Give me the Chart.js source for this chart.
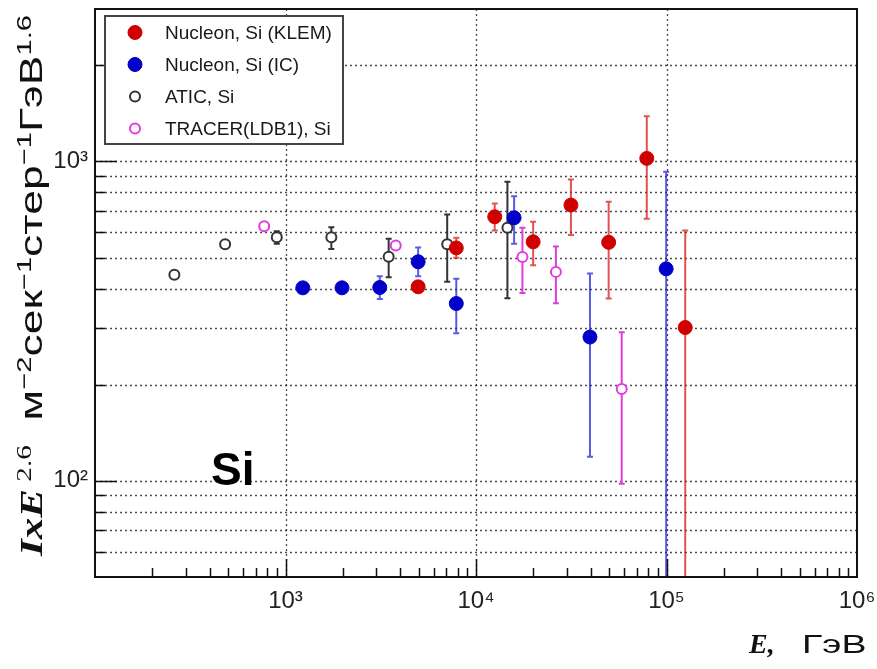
<!DOCTYPE html>
<html>
<head>
<meta charset="utf-8">
<title>Si</title>
<script src="https://cdn.jsdelivr.net/npm/chart.js@4.4.1/dist/chart.umd.min.js"></script>
<style>
  html, body { margin: 0; padding: 0; background: #fff; }
  canvas { display: block; }
</style>
</head>
<body>
<canvas id="siChart" width="877" height="669"></canvas>
<script>
// Nucleon KLEM: energy (GeV), flux x E^2.6, lower / upper error limits
const klemE    = [4970, 7880, 12540, 19950, 31500, 49700, 78800, 125400];
const klemFlux = [405, 536, 671, 560, 730, 558, 1022, 302];
const klemLo   = [392, 499, 608, 473, 588, 372, 661, 10];
const klemHi   = [418, 577, 738, 647, 878, 748, 1384, 608];

// Nucleon IC
const icE    = [1233, 1980, 3125, 4970, 7880, 15850, 39650, 99600];
const icFlux = [402, 402, 403, 485, 359, 666, 282, 461];
const icLo   = [396, 388, 371, 437, 290, 552, 119, 10];
const icHi   = [408, 416, 437, 538, 429, 778, 446, 928];

// ATIC
const aticE    = [261, 482, 900, 1740, 3480, 7060, 14620];
const aticFlux = [442, 550, 579, 579, 503, 550, 620];
const aticLo   = [442, 550, 552, 532, 434, 420, 373];
const aticHi   = [442, 550, 604, 622, 573, 682, 863];

// TRACER (LDB1)
const tracerE    = [773, 3790, 17530, 26270, 58200];
const tracerFlux = [627, 545, 502, 451, 194];
const tracerLo   = [627, 545, 387, 360, 98];
const tracerHi   = [627, 545, 620, 542, 292];

// axis decorations
const xGridLines = [1e3, 1e4, 1e5];
const xLabelTicks = [1e3, 1e4, 1e5, 1e6];
const yGridLines = [60, 70, 80, 90, 100, 200, 300, 400, 500, 600, 700, 800, 900, 1000, 2000];
const yLabelTicks = [100, 1000];

const SANS = '"Liberation Sans", Arial, Helvetica, sans-serif';
const SERIF = '"Liberation Serif", "Times New Roman", serif';
const SUP = { 2: '\u00B2', 3: '\u00B3', 4: '\u2074', 5: '\u2075', 6: '\u2076' };

const series = [
    { label: 'Nucleon, Si (KLEM)', e: klemE, v: klemFlux, lo: klemLo, hi: klemHi,
      color: '#d10000', err: 'rgba(215,25,25,0.75)', filled: true },
    { label: 'Nucleon, Si (IC)', e: icE, v: icFlux, lo: icLo, hi: icHi,
      color: '#0000c8', err: 'rgba(20,20,215,0.7)', filled: true },
    { label: 'ATIC, Si', e: aticE, v: aticFlux, lo: aticLo, hi: aticHi,
      color: '#333333', err: '#333333', filled: false },
    { label: 'TRACER(LDB1), Si', e: tracerE, v: tracerFlux, lo: tracerLo, hi: tracerHi,
      color: '#e03ce0', err: '#e03ce0', filled: false }
];

function powLabel(v) {
    return '10' + SUP[Math.round(Math.log10(v))];
}

function markerStyle(s) {
    return s.filled
        ? { pointRadius: 7, borderWidth: 1, backgroundColor: s.color, borderColor: s.color }
        : { pointRadius: 5, borderWidth: 2, backgroundColor: '#ffffff', borderColor: s.color };
}

const datasets = series.map(s => Object.assign({
    label: s.label,
    data: s.e.map((e, i) => ({ x: e, y: s.v[i] })),
    showLine: false,
    pointHoverRadius: 7
}, markerStyle(s)));

// text made of differently styled runs, laid along the current x direction
function drawRuns(ctx, runs, target) {
    let total = 0;
    runs.forEach(r => {
        ctx.font = r.font;
        r.w = ctx.measureText(r.text).width;
        total += r.w;
    });
    if (target) ctx.scale(target / total, 1);
    let x = 0;
    runs.forEach(r => {
        ctx.font = r.font;
        ctx.fillText(r.text, x, -(r.rise || 0));
        x += r.w;
    });
}

const backdrop = {
    id: 'backdrop',
    beforeDatasetsDraw(chart) {
        const { ctx, chartArea: a, scales: { x, y } } = chart;
        ctx.save();
        ctx.beginPath();
        ctx.rect(a.left, a.top, a.right - a.left, a.bottom - a.top);
        ctx.clip();

        // dotted grid
        ctx.strokeStyle = 'rgba(0,0,0,0.7)';
        ctx.lineWidth = 1.3;
        ctx.setLineDash([2, 3]);
        yGridLines.forEach(v => {
            const py = Math.round(y.getPixelForValue(v)) + 0.5;
            ctx.beginPath();
            ctx.moveTo(a.left, py);
            ctx.lineTo(a.right, py);
            ctx.stroke();
        });
        xGridLines.forEach(v => {
            const px = Math.round(x.getPixelForValue(v)) + 0.5;
            ctx.beginPath();
            ctx.moveTo(px, a.top);
            ctx.lineTo(px, a.bottom);
            ctx.stroke();
        });
        ctx.setLineDash([]);

        // error bars
        series.forEach(s => {
            ctx.strokeStyle = s.err;
            ctx.lineWidth = 2;
            s.e.forEach((e, i) => {
                if (s.lo[i] === s.hi[i]) return;
                const px = x.getPixelForValue(e);
                const p1 = y.getPixelForValue(s.lo[i]);
                const p2 = y.getPixelForValue(s.hi[i]);
                ctx.beginPath();
                ctx.moveTo(px, p1);
                ctx.lineTo(px, p2);
                ctx.moveTo(px - 3, p1);
                ctx.lineTo(px + 3, p1);
                ctx.moveTo(px - 3, p2);
                ctx.lineTo(px + 3, p2);
                ctx.stroke();
            });
        });
        ctx.restore();
    },

    afterDatasetsDraw(chart) {
        const { ctx, chartArea: a, scales: { x, y } } = chart;
        ctx.save();

        // frame
        ctx.strokeStyle = '#111';
        ctx.lineWidth = 2;
        ctx.strokeRect(a.left, a.top, a.right - a.left, a.bottom - a.top);

        // inner tick marks
        ctx.lineWidth = 1.5;
        ctx.beginPath();
        for (let n = 2; n <= 5; n++) {
            for (let k = 1; k <= 9; k++) {
                const v = k * Math.pow(10, n);
                if (v <= 100 || v >= 1e6) continue;
                const px = Math.round(x.getPixelForValue(v)) + 0.5;
                ctx.moveTo(px, a.bottom);
                ctx.lineTo(px, a.bottom - (k === 1 ? 18 : 9));
            }
        }
        for (let n = 1; n <= 3; n++) {
            for (let k = 1; k <= 9; k++) {
                const v = k * Math.pow(10, n);
                if (v <= 50 || v >= 3000) continue;
                const py = Math.round(y.getPixelForValue(v)) + 0.5;
                ctx.moveTo(a.left, py);
                ctx.lineTo(a.left + (k === 1 ? 22 : 10), py);
            }
        }
        ctx.stroke();

        // element label
        ctx.fillStyle = '#000';
        ctx.font = 'bold 46px ' + SANS;
        ctx.textBaseline = 'alphabetic';
        ctx.fillText('Si', 211, 485);

        // legend
        const lx = 105, ly = 16, lw = 238, lh = 128;
        ctx.fillStyle = '#fff';
        ctx.fillRect(lx, ly, lw, lh);
        ctx.strokeStyle = '#444';
        ctx.lineWidth = 2;
        ctx.strokeRect(lx, ly, lw, lh);
        ctx.font = '19px ' + SANS;
        ctx.textBaseline = 'middle';
        series.forEach((s, i) => {
            const cy = 32.5 + i * 32;
            const m = markerStyle(s);
            ctx.beginPath();
            ctx.arc(135, cy, m.pointRadius, 0, Math.PI * 2);
            ctx.fillStyle = m.backgroundColor;
            ctx.fill();
            ctx.lineWidth = m.borderWidth;
            ctx.strokeStyle = m.borderColor;
            ctx.stroke();
            ctx.fillStyle = '#1a1a1a';
            ctx.fillText(s.label, 165, cy + 1);
        });

        ctx.restore();
    },

    afterDraw(chart) {
        const ctx = chart.ctx;
        ctx.save();
        ctx.fillStyle = '#111';
        ctx.textBaseline = 'alphabetic';

        // vertical axis title
        ctx.save();
        ctx.translate(42, 556);
        ctx.rotate(-Math.PI / 2);
        drawRuns(ctx, [
            { text: 'IxE', font: 'bold italic 31px ' + SERIF },
            { text: ' 2.6', font: '21px ' + SERIF, rise: 11 },
            { text: '  м', font: '32px ' + SANS },
            { text: '\u22122', font: '21px ' + SANS, rise: 11 },
            { text: 'сек', font: '32px ' + SANS },
            { text: '\u22121', font: '21px ' + SANS, rise: 11 },
            { text: 'стер', font: '32px ' + SANS },
            { text: '\u22121', font: '21px ' + SANS, rise: 11 },
            { text: 'ГэВ', font: '32px ' + SANS },
            { text: '1.6', font: '21px ' + SANS, rise: 11 }
        ], 541);
        ctx.restore();

        // horizontal axis title
        ctx.font = 'bold italic 28px ' + SERIF;
        ctx.fillText('E,', 749, 653);
        ctx.save();
        ctx.translate(802, 653);
        ctx.scale(1.5, 1);
        ctx.font = '25px ' + SANS;
        ctx.fillText('ГэВ', 0, 0);
        ctx.restore();

        ctx.restore();
    }
};

new Chart(document.getElementById('siChart'), {
    type: 'scatter',
    data: { datasets },
    plugins: [backdrop],
    options: {
        responsive: false,
        animation: false,
        events: [],
        layout: { padding: { left: 0, top: 9, right: 20, bottom: 0 } },
        plugins: {
            legend: { display: false },
            tooltip: { enabled: false }
        },
        scales: {
            x: {
                type: 'logarithmic',
                min: 100,
                max: 1e6,
                afterBuildTicks: scale => { scale.ticks = xLabelTicks.map(v => ({ value: v })); },
                afterFit: scale => {
                    scale.height = 92;
                    scale.paddingLeft = 0;
                    scale.paddingRight = 0;
                },
                grid: { display: false, drawTicks: false },
                border: { display: false },
                ticks: {
                    autoSkip: false,
                    maxRotation: 0,
                    padding: 10,
                    color: '#222',
                    font: { family: SANS, size: 24 },
                    callback: v => powLabel(v)
                }
            },
            y: {
                type: 'logarithmic',
                min: 50,
                max: 3000,
                afterBuildTicks: scale => { scale.ticks = yGridLines.map(v => ({ value: v })); },
                afterFit: scale => {
                    scale.width = 95;
                    scale.paddingTop = 0;
                    scale.paddingBottom = 0;
                },
                grid: { display: false, drawTicks: false },
                border: { display: false },
                ticks: {
                    autoSkip: false,
                    padding: 7,
                    color: '#222',
                    font: { family: SANS, size: 24 },
                    callback: v => (yLabelTicks.includes(v) ? powLabel(v) : '')
                }
            }
        }
    }
});
</script>
</body>
</html>
